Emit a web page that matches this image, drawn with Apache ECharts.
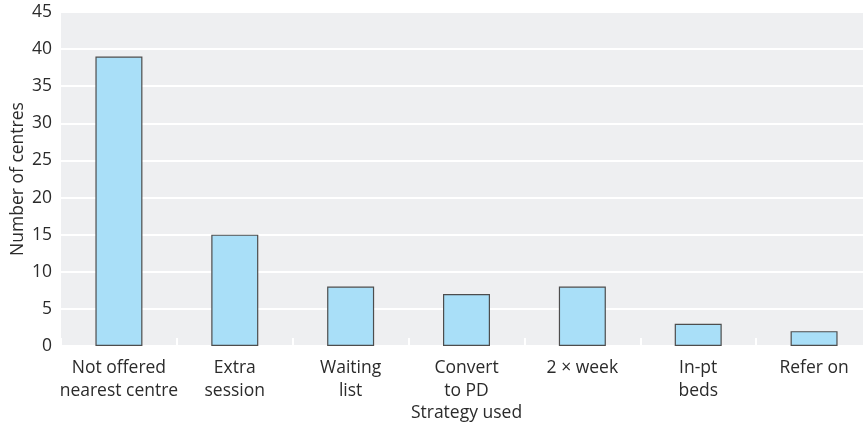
<!DOCTYPE html>
<html lang="en">
<head>
    <meta charset="UTF-8">
    <title>Strategy used</title>
    <style>
        * { margin: 0; padding: 0; }
        #chart { width: 863px; height: 428px; }
    </style>
</head>
<body>
    <div id="chart"></div>
    <script src="https://cdn.jsdelivr.net/npm/echarts@6/dist/echarts.min.js"></script>
    <script>
        var categories = ['Not offered\nnearest centre', 'Extra\nsession', 'Waiting\nlist', 'Convert\nto PD', '2 \u00d7 week', 'In-pt\nbeds', 'Refer on'];
        var centres = [39, 15, 8, 7, 8, 3, 2];
        var yTicks = { min: 0, max: 45, interval: 5 };

        var chart = echarts.init(document.getElementById('chart'));
        var font = '"Open Sans", sans-serif';
        var option = {
            animation: false,
            textStyle: { fontFamily: font },
            grid: {
                left: 61, right: -9, top: 12, bottom: 82,
                outerBoundsMode: 'none',
                containLabel: false,
                show: true, backgroundColor: '#eeeff1', borderWidth: 0
            },
            xAxis: {
                type: 'category',
                data: categories,
                name: 'Strategy used',
                nameLocation: 'middle',
                nameGap: 58,
                nameMoveOverlap: false,
                nameTextStyle: { fontSize: 17.5, color: '#2b2b2b', fontFamily: font },
                axisLine: { show: false },
                axisTick: { show: true, inside: true, length: 8, lineStyle: { color: '#ffffff', width: 2 } },
                axisLabel: { fontSize: 17.5, color: '#2b2b2b', margin: 11, lineHeight: 23, fontFamily: font, interval: 0 }
            },
            yAxis: {
                type: 'value',
                min: yTicks.min, max: yTicks.max, interval: yTicks.interval,
                name: 'Number of centres',
                nameLocation: 'middle',
                nameGap: 34,
                nameMoveOverlap: false,
                nameTextStyle: { fontSize: 17.5, color: '#2b2b2b', fontFamily: font },
                axisLine: { show: false },
                axisTick: { show: false },
                axisLabel: { fontSize: 17.5, color: '#2b2b2b', margin: 9, fontFamily: font },
                splitLine: { lineStyle: { color: '#ffffff', width: 2 } }
            },
            series: [{
                type: 'bar',
                data: centres,
                barWidth: 47,
                itemStyle: { color: '#a9dff8', borderColor: '#4d4d4d', borderWidth: 1.2 }
            }]
        };
        chart.setOption(option);
    </script>
</body>
</html>
